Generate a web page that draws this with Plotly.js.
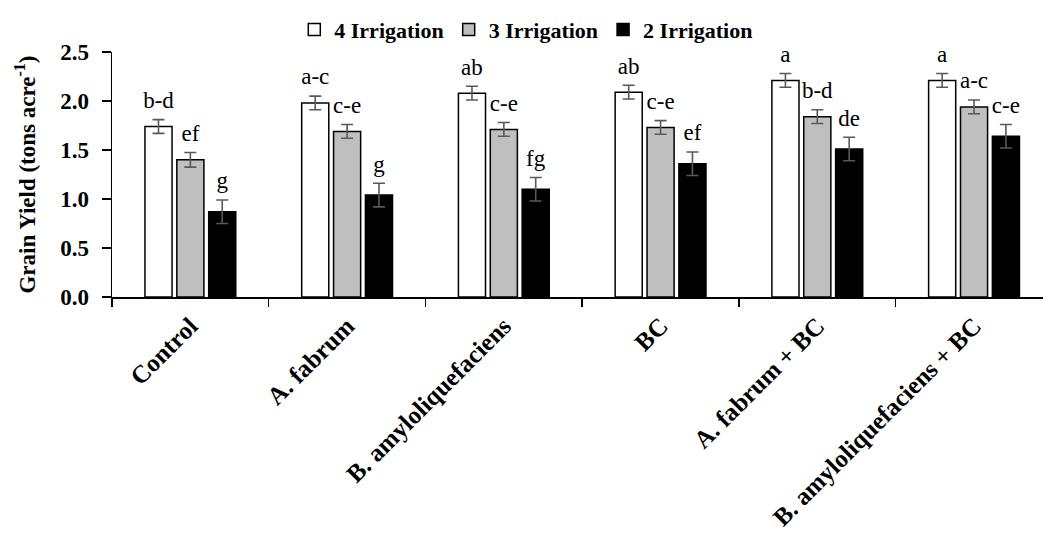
<!DOCTYPE html>
<html>
<head>
<meta charset="utf-8">
<script src="https://cdn.plot.ly/plotly-3.0.1.min.js"></script>
<style>html,body{margin:0;padding:0;background:#fff;overflow:hidden}#chart{width:1043px;height:534px}</style>
</head>
<body>
<div id="chart"></div>
<script>
const categories = ["Control", "A. fabrum", "B. amyloliquefaciens", "BC", "A. fabrum + BC", "B. amyloliquefaciens + BC"];
const seriesNames = ["4 Irrigation", "3 Irrigation", "2 Irrigation"];
const irr4 = [1.74, 1.98, 2.08, 2.09, 2.21, 2.21];
const irr3 = [1.40, 1.69, 1.71, 1.73, 1.84, 1.94];
const irr2 = [0.87, 1.04, 1.10, 1.36, 1.51, 1.64];
const err4 = [0.07, 0.07, 0.07, 0.07, 0.07, 0.07];
const err3 = [0.075, 0.07, 0.07, 0.07, 0.07, 0.07];
const err2 = [0.12, 0.12, 0.12, 0.12, 0.12, 0.12];
const letters4 = ["b-d", "a-c", "ab", "ab", "a", "a"];
const letters3 = ["ef", "c-e", "c-e", "c-e", "b-d", "a-c"];
const letters2 = ["g", "g", "fg", "ef", "de", "c-e"];

const FONT = "'Liberation Serif', 'Times New Roman', serif";
const fills = ["#ffffff", "#bfbfbf", "#000000"];
const vals = [irr4, irr3, irr2];
const errs = [err4, err3, err2];
const lets = [letters4, letters3, letters2];

const traces = [];
for (let i = 0; i < 3; i++) {
  traces.push({
    type: "bar", name: seriesNames[i], x: categories, y: vals[i],
    offsetgroup: String(i), alignmentgroup: "g",
    marker: {color: fills[i], line: {color: "#000", width: 1.5}},
    error_y: {type: "data", array: errs[i], visible: true, color: "#595959", thickness: 1.6, width: 6},
    hoverinfo: "skip"
  });
}
for (let i = 0; i < 3; i++) {
  traces.push({
    type: "scatter", mode: "markers+text", x: categories,
    y: vals[i].map((v, k) => v + errs[i][k]),
    text: lets[i], textposition: "top center",
    marker: {size: 8, color: "rgba(0,0,0,0)"},
    textfont: {family: FONT, size: 23, color: "#000"},
    offsetgroup: String(i), alignmentgroup: "g",
    showlegend: false, hoverinfo: "skip", cliponaxis: false
  });
}

const layout = {
  width: 1043, height: 534,
  margin: {l: 112, r: 0, t: 52, b: 237},
  paper_bgcolor: "#fff", plot_bgcolor: "#fff",
  barmode: "group", scattermode: "group",
  bargap: 0.39, bargroupgap: 0.15,
  font: {family: FONT, size: 22, color: "#000"},
  showlegend: true,
  legend: {orientation: "h", x: 0.445, xanchor: "center", y: 1.005, yanchor: "bottom",
           font: {family: FONT, size: 22, color: "#000", weight: "bold"},
           itemwidth: 30, tracegroupgap: 0, traceorder: "normal"},
  xaxis: {type: "category", range: [-0.5, 5.44], showline: true, linecolor: "#000", linewidth: 1.5,
          ticks: "outside", tickson: "boundaries", ticklen: 8, tickcolor: "#000", tickwidth: 1.5,
          ticklabelstandoff: 3,
          tickangle: -45, tickfont: {family: FONT, size: 25, color: "#000", weight: "bold"},
          showgrid: false, zeroline: false, fixedrange: true},
  yaxis: {range: [0, 2.5], dtick: 0.5, tickformat: ".1f", showline: true, linecolor: "#000", linewidth: 1.5,
          ticks: "outside", ticklen: 9, tickcolor: "#000", tickwidth: 1.5, ticklabelstandoff: 8,
          tickfont: {family: FONT, size: 23, color: "#000", weight: "bold"},
          showgrid: false, zeroline: false, fixedrange: true,
          title: {text: "Grain Yield (tons acre<sup>-1</sup>)", font: {family: FONT, size: 23, color: "#000", weight: "bold"}, standoff: 18}}
};

Plotly.newPlot("chart", traces, layout, {displayModeBar: false, staticPlot: true});
</script>
</body>
</html>
